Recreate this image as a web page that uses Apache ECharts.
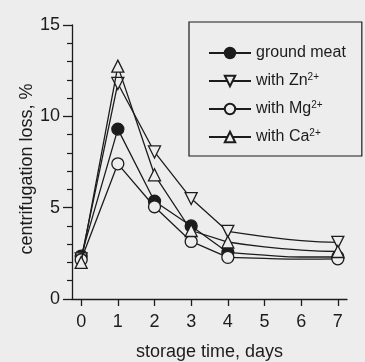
<!DOCTYPE html>
<html>
<head>
<meta charset="utf-8">
<script src="https://cdn.jsdelivr.net/npm/echarts@6/dist/echarts.min.js"></script>
<style>
html,body{margin:0;padding:0;background:#ededed;}
#c{width:365px;height:362px;}
</style>
</head>
<body>
<div id="c"></div>
<script>
// ---- data ----
const days = [0, 1, 2, 3, 4, 7];
const xTicks = [0, 1, 2, 3, 4, 5, 6, 7];
const groundMeat = [2.35, 9.3, 5.35, 4.0, 2.55, 2.3];
const withZn = [2.2, 11.8, 8.05, 5.5, 3.7, 3.1];
const withMg = [2.15, 7.4, 5.05, 3.15, 2.28, 2.2];
const withCa = [2.0, 12.75, 6.8, 3.75, 3.12, 2.6];
// curved tail (days 4..7)
const tailDays = [4, 5, 6, 7];
const tailGround = [2.55, 2.4, 2.3, 2.3];
const tailZn = [3.7, 3.42, 3.2, 3.1];
const tailMg = [2.28, 2.22, 2.18, 2.2];
const tailCa = [3.12, 2.85, 2.68, 2.6];
const seriesNames = ['ground meat', 'with Zn', 'with Mg', 'with Ca'];
const superscripts = ['', '2+', '2+', '2+'];

const INK = '#1c1c1c';
const BG = '#ededed';
const FONT = '"Liberation Sans", Arial, sans-serif';

function mainData(vals) {
  const out = [];
  days.forEach((d, i) => {
    if (d === 7) out.push([5, '-']);
    out.push([d, vals[i]]);
  });
  return out;
}
function tailData(vals) {
  return tailDays.map((d, i) => [d, vals[i]]);
}

const markerDefs = [
  { symbol: 'circle', fill: INK, rotate: 0 },
  { symbol: 'triangle', fill: BG, rotate: 180 },
  { symbol: 'circle', fill: BG, rotate: 0 },
  { symbol: 'triangle', fill: BG, rotate: 0 }
];
const mains = [groundMeat, withZn, withMg, withCa];
const tails = [tailGround, tailZn, tailMg, tailCa];

const series = [];
tails.forEach((t, i) => {
  series.push({
    name: 'tail' + i, type: 'line', data: tailData(t), smooth: 0.5,
    symbol: 'none', silent: true, z: 2,
    lineStyle: { color: INK, width: 1.3 }
  });
});
mains.forEach((v, i) => {
  const m = markerDefs[i];
  series.push({
    name: seriesNames[i], type: 'line', data: mainData(v),
    symbol: m.symbol, symbolSize: 12, symbolRotate: m.rotate,
    showSymbol: true, connectNulls: false, z: 3 + i,
    lineStyle: { color: INK, width: 1.3 },
    itemStyle: { color: m.fill, borderColor: INK, borderWidth: 1.3 }
  });
});

const chart = echarts.init(document.getElementById('c'), null, { renderer: 'canvas' });
chart.setOption({
  backgroundColor: BG,
  animation: false,
  textStyle: { fontFamily: FONT },
  grid: { left: 72, right: 18, top: 25, bottom: 63, containLabel: false, outerBoundsMode: 'none' },
  xAxis: {
    type: 'value', min: -0.25, max: 7.25,
    name: 'storage time, days', nameLocation: 'middle', nameGap: 44, nameMoveOverlap: false,
    nameTextStyle: { fontSize: 18, color: INK, fontFamily: FONT },
    axisLine: { show: true, onZero: false, lineStyle: { color: INK, width: 1.3 } },
    axisTick: { show: true, length: 7, customValues: xTicks, lineStyle: { color: INK, width: 1.3 } },
    axisLabel: { customValues: xTicks, fontSize: 18, color: INK, margin: 14, fontFamily: FONT },
    splitLine: { show: false }
  },
  yAxis: {
    type: 'value', min: 0, max: 15, interval: 5,
    name: 'centrifugation loss, %', nameLocation: 'middle', nameGap: 36, nameMoveOverlap: false,
    nameTextStyle: { fontSize: 18, color: INK, fontFamily: FONT, padding: [0, 14, 0, 0] },
    axisLine: { show: true, onZero: false, lineStyle: { color: INK, width: 1.3 } },
    axisTick: { show: true, length: 9, lineStyle: { color: INK, width: 1.3 } },
    minorTick: { show: true, splitNumber: 5, length: 5, lineStyle: { color: INK, width: 1.2 } },
    axisLabel: { fontSize: 18, color: INK, margin: 12, fontFamily: FONT },
    splitLine: { show: false }
  },
  legend: {
    data: seriesNames, orient: 'vertical', left: 189, top: 22,
    padding: [23, 16, 11, 19],
    itemWidth: 42, itemHeight: 13, itemGap: 11,
    borderColor: INK, borderWidth: 1.2, backgroundColor: BG,
    textStyle: {
      fontSize: 16, color: INK, fontFamily: FONT,
      rich: { sup: { fontSize: 10, color: INK, fontFamily: FONT, verticalAlign: 'top', padding: [0, 0, 8, 0] } }
    },
    formatter: function (name) {
      const k = seriesNames.indexOf(name);
      return superscripts[k] ? name + '{sup|' + superscripts[k] + '}' : name;
    }
  },
  series: series
});
</script>
</body>
</html>
